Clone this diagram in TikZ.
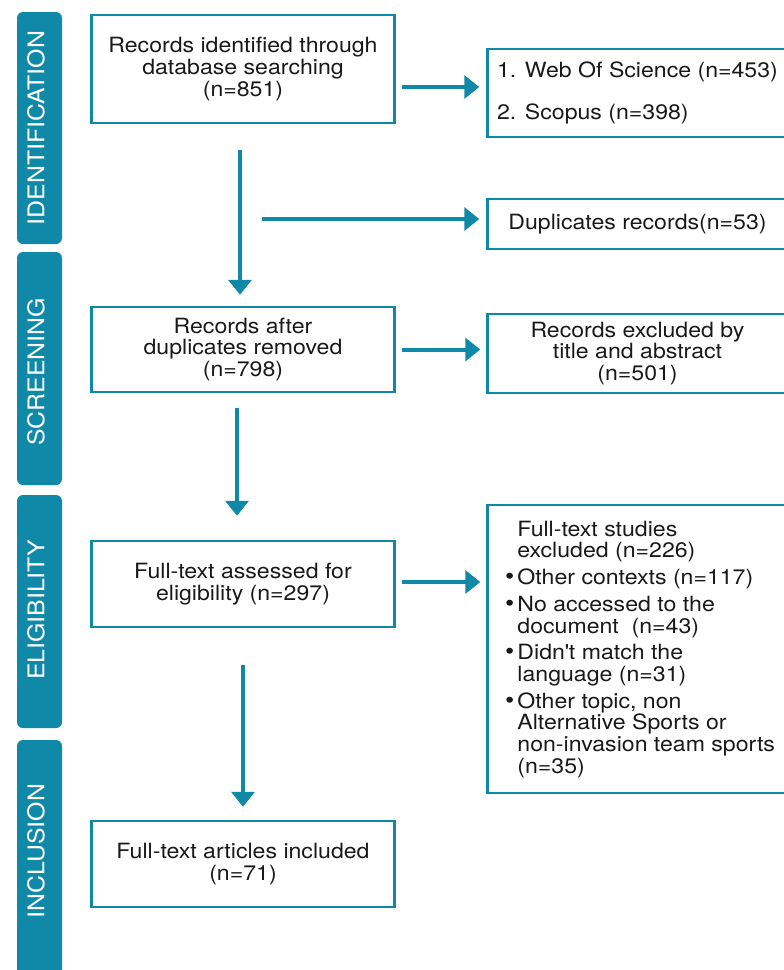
\documentclass[tikz,border=0pt]{standalone}
\usepackage{fontspec}
\setmainfont{TeX Gyre Heros}[FakeStretch=1.1]
\newfontfamily\barfont{TeX Gyre Heros}[FakeStretch=1.08]
\usetikzlibrary{arrows.meta}

\definecolor{prismablue}{RGB}{16,137,168}
\definecolor{textgrey}{RGB}{25,25,25}
\newcommand{\boxtext}{\fontsize{21}{21.7}\selectfont}
\newcommand{\itembullet}{\llap{{\fontsize{24}{16}\selectfont\textbullet}\hspace{3pt}}}

\tikzset{
  flowbox/.style={draw=prismablue, line width=2.5pt, minimum width=303pt, align=center, inner sep=0pt, text=textgrey, font=\boxtext},
  sidebox/.style={flowbox, minimum width=300pt},
  sidebar/.style={fill=prismablue, rounded corners=6pt, minimum width=45pt, inner sep=0pt},
  sidelabel/.style={rotate=90, text=white, inner sep=0pt, font=\barfont\fontsize{23}{24}\selectfont},
  flowarrow/.style={draw=prismablue, line width=4pt, -{Triangle[width=23pt,length=15pt]}}
}

\begin{document}
\begin{tikzpicture}[x=1pt, y=-1pt]
  \useasboundingbox (0,0) rectangle (784,970);
  \clip (0,0) rectangle (784,970);

  % phase bars on the left
  \node[sidebar, minimum height=232pt] (idbar) at (39.5,128) {};
  \node[sidebar, minimum height=233pt] (scbar) at (39.5,368.5) {};
  \node[sidebar, minimum height=233pt] (elbar) at (39.5,611.5) {};
  \node[sidebar, minimum height=250pt] (inbar) at (39.5,865) {};
  \node[sidelabel] (idlabel) at (36,128) {IDENTIFICATION};
  \node[sidelabel] (sclabel) at (36,372) {SCREENING};
  \node[sidelabel] (ellabel) at (36,610) {ELIGIBILITY};
  \node[sidelabel] (inlabel) at (36,851) {INCLUSION};

  % main column
  \node[flowbox, minimum height=108pt] (ident) at (243,69) {Records identified through\\database searching\\(n=851)};
  \node[flowbox, minimum height=85pt] (dedup) at (243,349.5) {Records after\\duplicates removed\\(n=798)};
  \node[flowbox, minimum height=86pt] (assessed) at (243,584) {Full-text assessed for\\eligibility (n=297)};
  \node[flowbox, minimum height=86pt] (included) at (243,864) {Full-text articles included\\(n=71)};

  % side column
  \node[sidebox, minimum height=88pt, align=left] (sources) at (637.5,93) {1. Web Of Science (n=453)\\[21pt]2. Scopus (n=398)};
  \node[sidebox, minimum height=50pt] (dup) at (637.5,224) {Duplicates records(n=53)};
  \node[sidebox, minimum height=79pt] (excl) at (637.5,353.5) {Records excluded by\\title and abstract\\(n=501)};
  \node[sidebox, minimum height=288pt] (ftexcl) at (637.5,649) {};
  \node[anchor=north west, align=left, inner sep=0pt, text=textgrey, font=\boxtext] (ftlist) at ([xshift=31pt,yshift=-17pt]ftexcl.north west)
    {Full-text studies\\excluded (n=226)\\[5pt]
     \itembullet Other contexts (n=117)\\[5pt]
     \itembullet No accessed to the\\document~~(n=43)\\[5pt]
     \itembullet Didn\textquotesingle t match the\\language (n=31)\\[5pt]
     \itembullet Other topic, non\\Alternative Sports or\\non-invasion team sports\\(n=35)};

  % connectors
  \coordinate (dupsrc) at (262,219);
  \draw[flowarrow, shorten <=6pt, shorten >=7pt] ([yshift=-18pt]ident.east) -- ([yshift=-18pt]ident.east -| sources.west);
  \draw[flowarrow, shorten <=26pt, shorten >=11pt] ([xshift=-3pt]ident.south) -- ([xshift=-3pt]ident.south |- dedup.north);
  \draw[flowarrow, shorten >=7pt] (dupsrc) -- (dupsrc -| dup.west);
  \draw[flowarrow, shorten <=6pt, shorten >=6pt] (dedup.east) -- (dedup.east -| excl.west);
  \draw[flowarrow, shorten <=15pt, shorten >=24pt] ([xshift=-6pt]dedup.south) -- ([xshift=-6pt]dedup.south |- assessed.north);
  \draw[flowarrow, shorten <=6pt, shorten >=6pt] ([yshift=2pt]assessed.east) -- ([yshift=2pt]assessed.east -| ftexcl.west);
  \draw[flowarrow, shorten <=37pt, shorten >=13pt] (assessed.south) -- (included.north);
\end{tikzpicture}
\end{document}
